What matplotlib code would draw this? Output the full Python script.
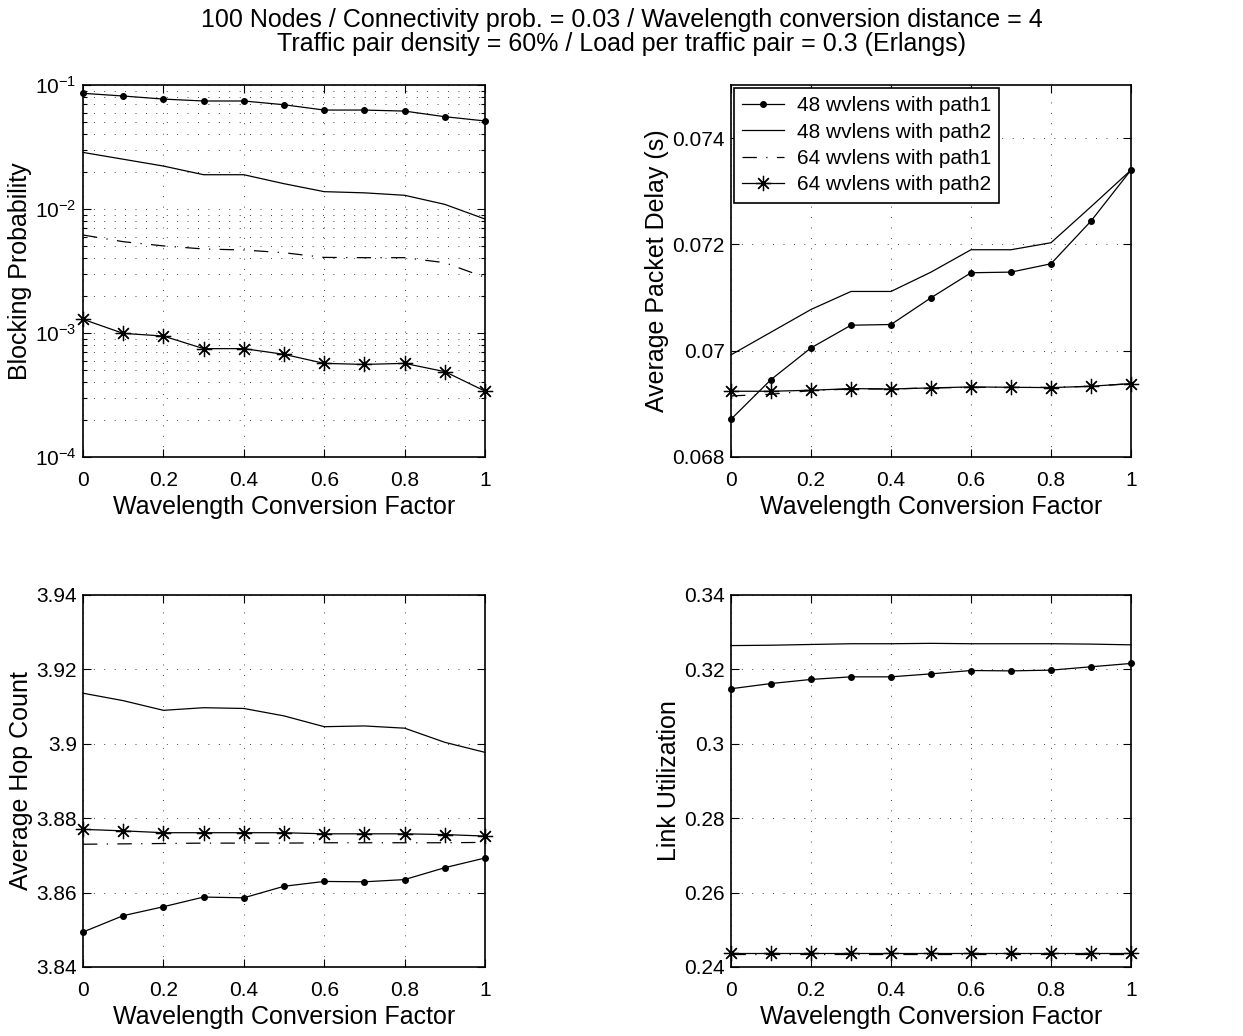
import matplotlib
matplotlib.use("Agg")
import matplotlib.pyplot as plt
from matplotlib.ticker import FormatStrFormatter, LogLocator, NullFormatter, FixedLocator

plt.rcParams["font.family"] = ["Liberation Sans", "DejaVu Sans"]
plt.rcParams["mathtext.fontset"] = "custom"
plt.rcParams["mathtext.rm"] = "Liberation Sans"
plt.rcParams["mathtext.it"] = "Liberation Sans:italic"

factor = [0, 0.1, 0.2, 0.3, 0.4, 0.5, 0.6, 0.7, 0.8, 0.9, 1.0]
labels = ["48 wvlens with path1", "48 wvlens with path2",
          "64 wvlens with path1", "64 wvlens with path2"]

blocking_48_p1 = [0.0857, 0.0815, 0.0770, 0.0743, 0.0743, 0.0693, 0.0628, 0.0628, 0.0616, 0.0555, 0.0513]
blocking_48_p2 = [0.0286, 0.0252, 0.0222, 0.0189, 0.0189, 0.0160, 0.0138, 0.0135, 0.0129, 0.0109, 0.0083]
blocking_64_p1 = [0.00617, 0.00545, 0.00504, 0.00476, 0.00467, 0.00444, 0.00407, 0.00405, 0.00405, 0.00369, 0.00281]
blocking_64_p2 = [0.00129, 0.000993, 0.000945, 0.000748, 0.000748, 0.000673, 0.000569, 0.000558, 0.000569, 0.000488, 0.000340]

delay_48_p1 = [0.06871, 0.069457, 0.070053, 0.07048, 0.070493, 0.070996, 0.071467, 0.071479, 0.071636, 0.07244, 0.0734]
delay_48_p2 = [0.069922, 0.070349, 0.070776, 0.071115, 0.071115, 0.071479, 0.0719, 0.0719, 0.072032, 0.07271, 0.0734]
delay_64_p1 = [0.06915, 0.06918, 0.06925, 0.06928, 0.06928, 0.0693, 0.06931, 0.06931, 0.06931, 0.06933, 0.06938]
delay_64_p2 = [0.069237, 0.069237, 0.069256, 0.069287, 0.069280, 0.0693, 0.069319, 0.069312, 0.069306, 0.069331, 0.069382]

hops_48_p1 = [3.8494, 3.8538, 3.8562, 3.8588, 3.8586, 3.8617, 3.8630, 3.8629, 3.8635, 3.8667, 3.8693]
hops_48_p2 = [3.9136, 3.9116, 3.9090, 3.9097, 3.9095, 3.9075, 3.9046, 3.9048, 3.9042, 3.9004, 3.8977]
hops_64_p1 = [3.8730, 3.8731, 3.8732, 3.8733, 3.8733, 3.8733, 3.8734, 3.8734, 3.8734, 3.8734, 3.8735]
hops_64_p2 = [3.8770, 3.8766, 3.8761, 3.8761, 3.8761, 3.8761, 3.8758, 3.8758, 3.8758, 3.8756, 3.8752]

util_48_p1 = [0.3148, 0.3162, 0.3173, 0.3180, 0.3180, 0.3188, 0.3197, 0.3196, 0.3198, 0.3207, 0.3216]
util_48_p2 = [0.3264, 0.3265, 0.3267, 0.3269, 0.3269, 0.3270, 0.3269, 0.3269, 0.3269, 0.3268, 0.3266]
util_64_p1 = [0.2435, 0.2435, 0.2435, 0.2435, 0.2435, 0.2435, 0.2435, 0.2435, 0.2435, 0.2435, 0.2435]
util_64_p2 = [0.2438, 0.2438, 0.2438, 0.2438, 0.2438, 0.2438, 0.2438, 0.2438, 0.2438, 0.2438, 0.2438]

TICK_FS = 15
LABEL_FS = 18
GRID_LS = (0, (1, 11.5))
DASHDOT = (0, (11.5, 7.5, 1, 7.5))
ASTER = (8, 2, 0)


def draw_series(ax, p1_48, p2_48, p1_64, p2_64):
    lw = 0.9
    ax.plot(factor, p1_48, color="black", lw=lw, marker="o", ms=4, label=labels[0])
    ax.plot(factor, p2_48, color="black", lw=lw, label=labels[1])
    ax.plot(factor, p1_64, color="black", lw=lw, linestyle=DASHDOT, label=labels[2])
    ax.plot(factor, p2_64, color="black", lw=lw, marker=ASTER, ms=11, mew=0.9, label=labels[3])


def style_axes(ax, ylabel):
    ax.set_xlim(0, 1)
    ax.set_xticks([0, 0.2, 0.4, 0.6, 0.8, 1.0])
    ax.xaxis.set_major_formatter(FormatStrFormatter("%g"))
    ax.tick_params(which="both", direction="in", top=True, right=True,
                   labelsize=TICK_FS, width=0.8, color="black")
    ax.tick_params(which="major", length=6, pad=4.5)
    ax.tick_params(which="minor", length=3)
    ax.tick_params(axis="x", which="major", pad=10)
    for spine in ax.spines.values():
        spine.set_linewidth(1.2)
    ax.grid(True, which="major", color="black", linestyle=GRID_LS, linewidth=0.6)
    ax.set_xlabel("Wavelength Conversion Factor", fontsize=LABEL_FS, labelpad=4)
    ax.set_ylabel(ylabel, fontsize=LABEL_FS, labelpad=2.5)


fig = plt.figure(figsize=(12.43, 10.36), dpi=100)
W, H = 1243.0, 1036.0


def add_axes(x0, y0, x1, y1):
    return fig.add_axes([x0 / W, 1 - y1 / H, (x1 - x0) / W, (y1 - y0) / H])


ax1 = add_axes(83, 85, 485, 457)
ax2 = add_axes(731, 85, 1131, 457)
ax3 = add_axes(83, 595, 485, 967)
ax4 = add_axes(731, 595, 1131, 967)

# blocking probability, log scale
draw_series(ax1, blocking_48_p1, blocking_48_p2, blocking_64_p1, blocking_64_p2)
ax1.set_yscale("log")
style_axes(ax1, "Blocking Probability")
ax1.set_ylim(1e-4, 1e-1)
ax1.yaxis.set_major_locator(FixedLocator([1e-4, 1e-3, 1e-2, 1e-1]))
ax1.yaxis.set_minor_locator(LogLocator(base=10, subs=range(2, 10)))
ax1.yaxis.set_minor_formatter(NullFormatter())
ax1.grid(True, which="minor", axis="y", color="black", linestyle=GRID_LS, linewidth=0.6)

# packet delay
draw_series(ax2, delay_48_p1, delay_48_p2, delay_64_p1, delay_64_p2)
style_axes(ax2, "Average Packet Delay (s)")
ax2.set_ylim(0.068, 0.075)
ax2.set_yticks([0.068, 0.070, 0.072, 0.074])
ax2.yaxis.set_major_formatter(FormatStrFormatter("%g"))
leg = ax2.legend(loc="upper left", fontsize=15, frameon=True, fancybox=False,
                 edgecolor="black", framealpha=1, borderaxespad=0.15,
                 handlelength=2.0, handletextpad=0.6, borderpad=0.4, labelspacing=0.35)
leg.get_frame().set_linewidth(1.2)

# hop count
draw_series(ax3, hops_48_p1, hops_48_p2, hops_64_p1, hops_64_p2)
style_axes(ax3, "Average Hop Count")
ax3.set_ylim(3.84, 3.94)
ax3.set_yticks([3.84, 3.86, 3.88, 3.90, 3.92, 3.94])
ax3.yaxis.set_major_formatter(FormatStrFormatter("%g"))

# link utilization
draw_series(ax4, util_48_p1, util_48_p2, util_64_p1, util_64_p2)
style_axes(ax4, "Link Utilization")
ax4.set_ylim(0.24, 0.34)
ax4.set_yticks([0.24, 0.26, 0.28, 0.30, 0.32, 0.34])
ax4.yaxis.set_major_formatter(FormatStrFormatter("%g"))

for ax in (ax1, ax2, ax3, ax4):
    for line in ax.get_lines():
        line.set_clip_on(False)

fig.text(0.5, 1 - 20 / H,
         "100 Nodes / Connectivity prob. = 0.03 / Wavelength conversion distance = 4",
         ha="center", va="center", fontsize=18)
fig.text(0.5, 1 - 44 / H,
         "Traffic pair density = 60% / Load per traffic pair = 0.3 (Erlangs)",
         ha="center", va="center", fontsize=18)

fig.savefig("out.png", dpi=100)
